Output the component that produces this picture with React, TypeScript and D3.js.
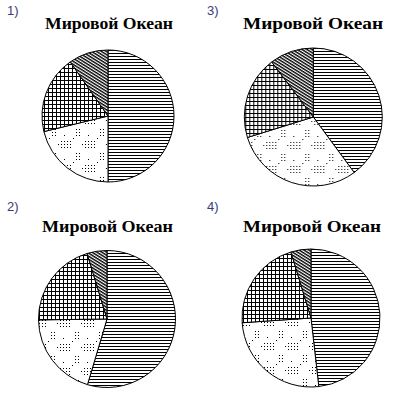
import React from "react";
import * as d3 from "d3";

// Slice categories (not labelled in the picture)
const oceans = ["Тихий", "Атлантический", "Индийский", "Северный Ледовитый"];
const patternIds = ["hlines", "dots", "grid", "diag"];

// Option labels and their slice shares (%)
const optionLabels = ["1)", "3)", "2)", "4)"];
const values1 = [50, 21.2, 19.1, 9.7];
const values3 = [39.9, 30.3, 19.5, 10.3];
const values2 = [54.6, 20.2, 20.5, 4.7];
const values4 = [48.2, 25.7, 21.4, 4.7];
const allValues = [values1, values3, values2, values4];
const title = "Мировой Океан";

// layout of the four panels
const layout = [
  { lx: 7, ly: 15, tx: 45, ty: 29, tw: 128, cx: 108, cy: 116, r: 66 },
  { lx: 207, ly: 15, tx: 243, ty: 29, tw: 140, cx: 313.3, cy: 117, r: 69 },
  { lx: 7, ly: 211, tx: 42, ty: 232, tw: 131, cx: 107, cy: 319, r: 68.5 },
  { lx: 207, ly: 211, tx: 243, ty: 232, tw: 138, cx: 311, cy: 318, r: 69 },
];

const dotCells: [number, number][] = [];
[1, 4, 7, 10].forEach((x) => [1, 4, 7].forEach((y) => dotCells.push([x, y])));
[16, 19].forEach((x) => [13, 16, 19].forEach((y) => dotCells.push([x, y])));
dotCells.push([22, 4], [4, 19], [13, 22]);

export default function App() {
  const pie = d3
    .pie<number>()
    .sort(null)
    .value((d) => d)
    .startAngle(0)
    .endAngle(2 * Math.PI);

  return (
    <svg
      width={395}
      height={396}
      style={{ position: "absolute", left: 0, top: 0, background: "#fff" }}
    >
      <defs>
        <pattern id="hlines" patternUnits="userSpaceOnUse" width={6} height={3}>
          <rect width={6} height={3} fill="#fff" />
          <rect x={0} y={0} width={6} height={1} fill="#000" />
        </pattern>
        <pattern id="grid" patternUnits="userSpaceOnUse" width={4} height={4}>
          <rect width={4} height={4} fill="#fff" />
          <rect x={0} y={0} width={4} height={1} fill="#000" />
          <rect x={0} y={0} width={1} height={4} fill="#000" />
        </pattern>
        <pattern
          id="diag"
          patternUnits="userSpaceOnUse"
          width={6}
          height={2.6}
          patternTransform="rotate(32)"
        >
          <rect width={6} height={2.6} fill="#fff" />
          <rect x={0} y={0} width={6} height={1.4} fill="#000" />
        </pattern>
        <pattern id="dots" patternUnits="userSpaceOnUse" width={24} height={24}>
          <rect width={24} height={24} fill="#fff" />
          {dotCells.map(([x, y], i) => (
            <rect key={i} x={x} y={y} width={1} height={1} fill="#000" />
          ))}
        </pattern>
      </defs>
      {allValues.map((vals, ci) => {
        const L = layout[ci];
        const arc = d3.arc<d3.PieArcDatum<number>>().innerRadius(0).outerRadius(L.r);
        const arcs = pie(vals);
        return (
          <g key={ci}>
            <text
              x={L.lx}
              y={L.ly}
              fontFamily="Arial, 'Liberation Sans', sans-serif"
              fontSize={13}
              fill="#3a3a7a"
            >
              {optionLabels[ci]}
            </text>
            <text
              x={L.tx}
              y={L.ty}
              fontFamily="'Times New Roman', 'Liberation Serif', serif"
              fontWeight="bold"
              fontSize={16.5}
              textLength={L.tw}
              lengthAdjust="spacingAndGlyphs"
              fill="#000"
            >
              {title}
            </text>
            <g transform={`translate(${L.cx},${L.cy})`}>
              {arcs.map((a, i) => (
                <path
                  key={oceans[i]}
                  d={arc(a) || ""}
                  fill={`url(#${patternIds[i]})`}
                  stroke="#000"
                  strokeWidth={1}
                />
              ))}
            </g>
          </g>
        );
      })}
    </svg>
  );
}
